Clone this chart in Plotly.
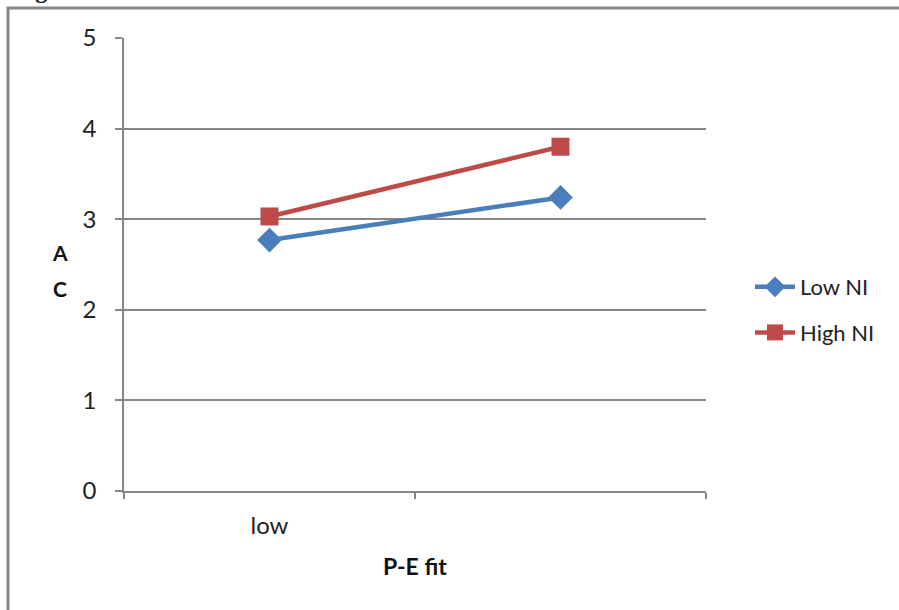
import plotly.graph_objects as go

categories = ["low", " "]
low_ni = [2.77, 3.24]
high_ni = [3.03, 3.80]
y_ticks = [0, 1, 2, 3, 4, 5]

W, H = 899, 610
L, R, T, B = 124, 706, 38, 491
pw, ph = R - L, B - T

def px_x(x):
    return (x - L) / pw

def px_y(y):
    return (B - y) / ph

FONT = "Lato"
GRID = "#868686"

fig = go.Figure()
fig.add_trace(go.Scatter(
    x=categories, y=low_ni, name="Low NI", mode="lines+markers",
    legendgroup="a",
    line=dict(color="#4A7EBB", width=4.5),
    marker=dict(symbol="diamond", size=19, color="#4A7EBB"),
))
fig.add_trace(go.Scatter(
    x=categories, y=high_ni, name="High NI", mode="lines+markers",
    legendgroup="b",
    line=dict(color="#BE4B48", width=4.5),
    marker=dict(symbol="square", size=18, color="#BE4B48"),
))

fig.update_layout(
    width=W, height=H,
    margin=dict(l=L, r=W - R, t=T, b=H - B),
    paper_bgcolor="white", plot_bgcolor="white",
    font=dict(family=FONT, size=23, color="#222222"),
    showlegend=True,
    legend=dict(x=px_x(750), y=px_y(310), xanchor="left", yanchor="middle",
                font=dict(family=FONT, size=22, color="#222222"),
                traceorder="grouped", tracegroupgap=14,
                itemwidth=40, bgcolor="rgba(0,0,0,0)"),
    xaxis=dict(
        type="category", categoryorder="array", categoryarray=categories,
        range=[-0.5, 1.5], tickson="boundaries", ticks="outside", ticklen=6,
        tickcolor=GRID, tickwidth=1.5, showgrid=False, showline=True,
        linecolor=GRID, linewidth=1.5, zeroline=False,
        ticklabelstandoff=12, tickfont=dict(family=FONT, size=24),
        fixedrange=True,
    ),
    yaxis=dict(
        range=[0, 5], tickvals=y_ticks, ticks="outside", ticklen=7,
        tickcolor=GRID, tickwidth=1.5, showgrid=True, gridcolor=GRID,
        gridwidth=1.5, showline=True, linecolor=GRID, linewidth=1.5,
        zeroline=False, ticklabelstandoff=14,
        tickfont=dict(family=FONT, size=24), fixedrange=True,
    ),
)

# Outer frame (partially cropped)
fig.add_shape(type="rect", xref="paper", yref="paper",
              x0=px_x(8), x1=px_x(915), y0=px_y(625), y1=px_y(8),
              line=dict(color=GRID, width=3), layer="below")

# Axis titles
fig.add_annotation(text="<b>P-E fit</b>", xref="paper", yref="paper",
                   x=px_x(415), y=px_y(566), xanchor="center", yanchor="middle",
                   showarrow=False,
                   font=dict(family=FONT, size=23, color="#111111"))
fig.add_annotation(text="<b>A</b>", xref="paper", yref="paper",
                   x=px_x(60), y=px_y(252), xanchor="center", yanchor="middle",
                   showarrow=False,
                   font=dict(family=FONT, size=21, color="#111111"))
fig.add_annotation(text="<b>C</b>", xref="paper", yref="paper",
                   x=px_x(60), y=px_y(288), xanchor="center", yanchor="middle",
                   showarrow=False,
                   font=dict(family=FONT, size=21, color="#111111"))
# Cropped caption above the frame
fig.add_annotation(text="<b>Fig</b>", xref="paper", yref="paper",
                   x=px_x(12), y=px_y(-10), xanchor="left", yanchor="middle",
                   showarrow=False,
                   font=dict(family="Liberation Serif", size=24, color="#111111"))

fig.write_html("out.html",
               config={"displayModeBar": False},
               post_script="document.body.style.margin='0';"
                           "document.body.style.overflow='hidden';")
